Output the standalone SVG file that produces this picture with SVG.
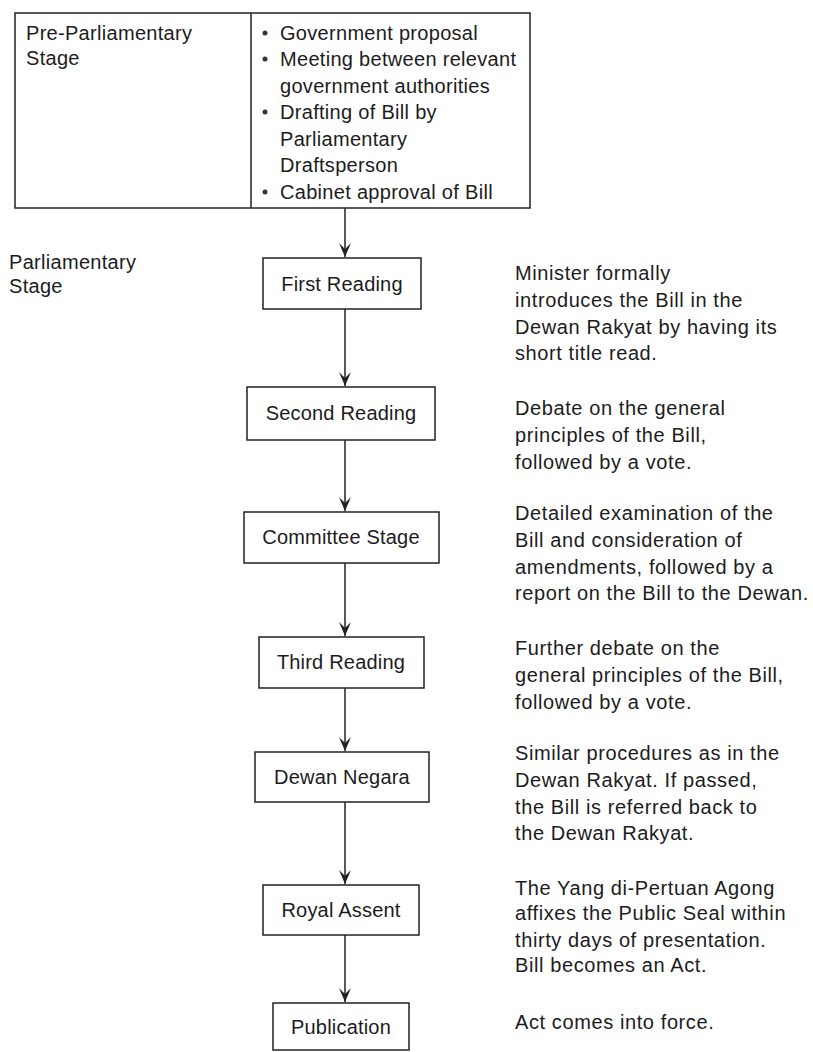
<svg xmlns="http://www.w3.org/2000/svg" width="813" height="1052" viewBox="0 0 813 1052">
<style>
text{font-family:"Liberation Sans",Arial,sans-serif;font-size:20px;fill:#1c1c1c}
.lbl{text-anchor:middle;letter-spacing:0.2px}
.desc{letter-spacing:0.6px}
.side{letter-spacing:0.3px}
.box{fill:#fff;stroke:#222;stroke-width:1.5}
.conn{stroke:#222;stroke-width:1.5;fill:none}
.bul{fill:#333}
</style>
<defs>
<marker id="arr" markerUnits="userSpaceOnUse" markerWidth="16" markerHeight="16" viewBox="-15 -8 16 16" refX="0" refY="0" orient="auto">
<path d="M0,0 L-14,-6 L-8,0 L-14,6 Z" fill="#222"/>
</marker>
</defs>
<rect width="813" height="1052" fill="#fff"/>

<g id="pre-stage">
<rect class="box" x="15" y="13" width="515" height="195"/>
<line x1="251" y1="13" x2="251" y2="208" stroke="#222" stroke-width="1.5"/>
<text class="side" x="26" y="40">Pre-Parliamentary</text>
<text class="side" x="26" y="65">Stage</text>
<circle class="bul" cx="265" cy="33" r="2.5"/>
<circle class="bul" cx="265" cy="59" r="2.5"/>
<circle class="bul" cx="265" cy="112" r="2.5"/>
<circle class="bul" cx="265" cy="192" r="2.5"/>
<text class="side" x="280" y="40">Government proposal</text>
<text class="side" x="280" y="66">Meeting between relevant</text>
<text class="side" x="280" y="93">government authorities</text>
<text class="side" x="280" y="119">Drafting of Bill by</text>
<text class="side" x="280" y="146">Parliamentary</text>
<text class="side" x="280" y="172">Draftsperson</text>
<text class="side" x="280" y="199">Cabinet approval of Bill</text>
</g>

<g id="parl-stage-label">
<text class="side" x="9" y="269">Parliamentary</text>
<text class="side" x="9" y="293">Stage</text>
</g>

<g id="connectors">
<line class="conn" x1="345" y1="208" x2="345" y2="257" marker-end="url(#arr)"/>
<line class="conn" x1="345" y1="309" x2="345" y2="386" marker-end="url(#arr)"/>
<line class="conn" x1="345" y1="440" x2="345" y2="511" marker-end="url(#arr)"/>
<line class="conn" x1="345" y1="563" x2="345" y2="636" marker-end="url(#arr)"/>
<line class="conn" x1="345" y1="688" x2="345" y2="751" marker-end="url(#arr)"/>
<line class="conn" x1="345" y1="802" x2="345" y2="884" marker-end="url(#arr)"/>
<line class="conn" x1="345" y1="935" x2="345" y2="1002" marker-end="url(#arr)"/>
</g>

<g id="first-reading">
<rect class="box" x="263" y="258" width="158" height="51"/>
<text class="lbl" x="342" y="291">First Reading</text>
<text class="desc" x="515" y="280">Minister formally</text>
<text class="desc" x="515" y="307">introduces the Bill in the</text>
<text class="desc" x="515" y="334">Dewan Rakyat by having its</text>
<text class="desc" x="515" y="360">short title read.</text>
</g>

<g id="second-reading">
<rect class="box" x="247" y="387" width="188" height="53"/>
<text class="lbl" x="341" y="420">Second Reading</text>
<text class="desc" x="515" y="415">Debate on the general</text>
<text class="desc" x="515" y="442">principles of the Bill,</text>
<text class="desc" x="515" y="469">followed by a vote.</text>
</g>

<g id="committee-stage">
<rect class="box" x="244" y="512" width="195" height="51"/>
<text class="lbl" x="341" y="544">Committee Stage</text>
<text class="desc" x="515" y="520">Detailed examination of the</text>
<text class="desc" x="515" y="547">Bill and consideration of</text>
<text class="desc" x="515" y="574">amendments, followed by a</text>
<text class="desc" x="515" y="600">report on the Bill to the Dewan.</text>
</g>

<g id="third-reading">
<rect class="box" x="259" y="637" width="165" height="51"/>
<text class="lbl" x="341" y="669">Third Reading</text>
<text class="desc" x="515" y="655">Further debate on the</text>
<text class="desc" x="515" y="682">general principles of the Bill,</text>
<text class="desc" x="515" y="709">followed by a vote.</text>
</g>

<g id="dewan-negara">
<rect class="box" x="255" y="752" width="174" height="50"/>
<text class="lbl" x="342" y="784">Dewan Negara</text>
<text class="desc" x="515" y="760">Similar procedures as in the</text>
<text class="desc" x="515" y="787">Dewan Rakyat. If passed,</text>
<text class="desc" x="515" y="814">the Bill is referred back to</text>
<text class="desc" x="515" y="840">the Dewan Rakyat.</text>
</g>

<g id="royal-assent">
<rect class="box" x="263" y="885" width="156" height="50"/>
<text class="lbl" x="341" y="917">Royal Assent</text>
<text class="desc" x="515" y="895">The Yang di-Pertuan Agong</text>
<text class="desc" x="515" y="920">affixes the Public Seal within</text>
<text class="desc" x="515" y="947">thirty days of presentation.</text>
<text class="desc" x="515" y="972">Bill becomes an Act.</text>
</g>

<g id="publication">
<rect class="box" x="273" y="1003" width="136" height="47"/>
<text class="lbl" x="341" y="1034">Publication</text>
<text class="desc" x="515" y="1029">Act comes into force.</text>
</g>
</svg>
